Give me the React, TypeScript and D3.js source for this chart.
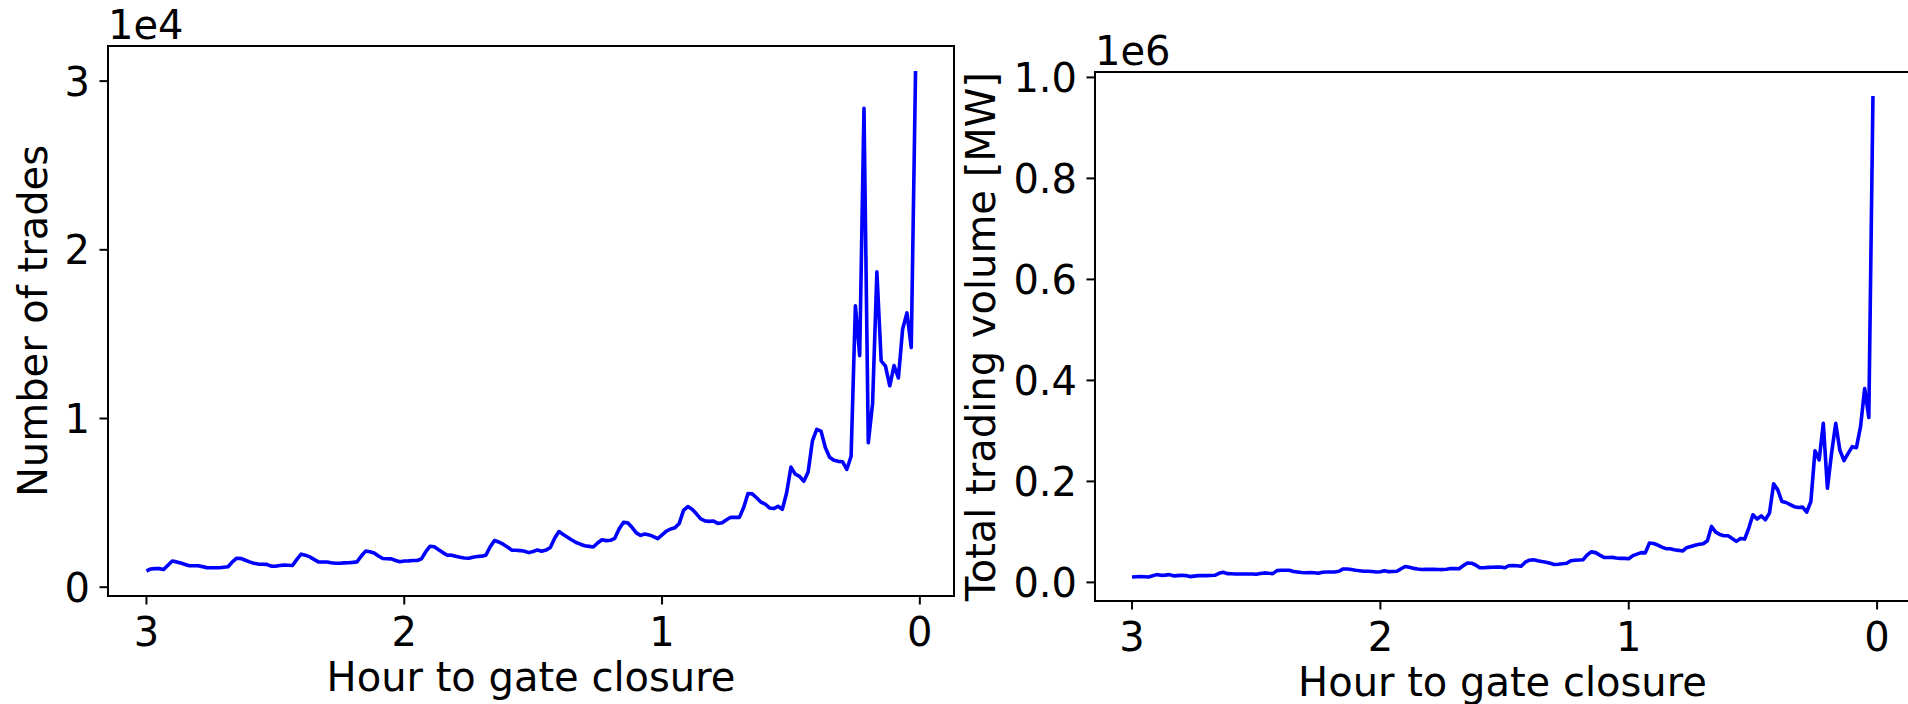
import React from 'react';
import * as d3 from 'd3';

// minutes before gate closure, one sample per minute (3 h -> 1 min)
const minutes = d3.range(180, 0, -1);

// number of trades per minute, m = 180 ... 1
const trades = [
  960, 1080, 1100, 1100, 1050, 1300, 1550, 1500, 1430, 1350,
  1270, 1270, 1270, 1220, 1160, 1150, 1150, 1150, 1180, 1210,
  1500, 1720, 1700, 1600, 1500, 1420, 1370, 1360, 1350, 1250,
  1240, 1290, 1310, 1300, 1290, 1650, 1960, 1900, 1800, 1650,
  1500, 1490, 1490, 1450, 1420, 1420, 1440, 1450, 1470, 1500,
  1850, 2140, 2100, 2030, 1850, 1700, 1690, 1680, 1580, 1510,
  1550, 1560, 1580, 1580, 1680, 2100, 2430, 2400, 2220, 2050,
  1890, 1900, 1830, 1770, 1730, 1720, 1780, 1820, 1840, 1900,
  2400, 2770, 2680, 2550, 2380, 2200, 2190, 2170, 2130, 2050,
  2120, 2210, 2130, 2200, 2350, 2900, 3300, 3120, 2960, 2800,
  2650, 2550, 2460, 2420, 2380, 2620, 2810, 2760, 2780, 2900,
  3450, 3840, 3820, 3550, 3220, 3070, 3150, 3100, 3000, 2880,
  3100, 3320, 3450, 3520, 3780, 4550, 4780, 4620, 4350, 4050,
  3930, 3900, 3920, 3780, 3820, 4000, 4150, 4140, 4140, 4720,
  5550, 5530, 5300, 5050, 4930, 4700, 4660, 4800, 4620, 5600,
  7120, 6700, 6570, 6280, 6830, 8670, 9350, 9250, 8280, 7700,
  7520, 7460, 7440, 6980, 7760, 16680, 13730, 28390, 8560, 10880,
  18690, 13410, 13100, 11940, 13140, 12400, 15310, 16260, 14210, 30600,
];

// total trading volume [MW] per minute, m = 180 ... 1
const volume = [
  10800, 11200, 11500, 11200, 10800, 13000, 15400, 14000, 14500, 15400,
  13000, 13500, 14100, 13500, 11500, 12500, 13400, 13400, 13400, 13800,
  14100, 18000, 20000, 17400, 17000, 16700, 16700, 16700, 16700, 16700,
  16000, 17500, 18800, 18000, 17400, 23300, 24000, 24000, 24000, 21500,
  20500, 19500, 19000, 19500, 19000, 18000, 20000, 20700, 20700, 20700,
  22000, 26700, 26700, 25500, 24000, 23000, 22000, 22000, 21500, 20700,
  21000, 23300, 21300, 21500, 22000, 27000, 31500, 30000, 27800, 26500,
  25500, 25800, 25900, 25900, 25700, 25400, 26200, 27500, 27200, 27000,
  33000, 38500, 38000, 34500, 29000, 29000, 29800, 30000, 30300, 30500,
  29000, 33000, 33500, 33000, 32000, 40000, 44000, 45000, 43000, 41300,
  40000, 38000, 35500, 36000, 37000, 38000, 43000, 44000, 44500, 45000,
  55000, 60500, 59000, 54000, 49500, 49300, 49600, 48500, 47600, 47600,
  47000, 53000, 56000, 59000, 58500, 78000, 77000, 74000, 70000, 66800,
  66800, 64500, 63500, 62200, 68800, 71000, 73500, 75500, 76600, 82500,
  110800, 99600, 95000, 92500, 92500, 87000, 81200, 87100, 85800, 107600,
  133900, 125400, 131900, 124000, 137200, 195100, 183200, 160200, 158200, 154000,
  150000, 148300, 149000, 139200, 160200, 260800, 242400, 314900, 186600, 255600,
  314900, 262200, 241100, 255600, 268800, 266800, 308300, 384000, 326800, 963100,
];

const hourTicks = [3, 2, 1, 0];
const tradeTicks = [0, 10000, 20000, 30000];
const volumeTicks = [0, 200000, 400000, 600000, 800000, 1000000];

const FONT = 'DejaVu Sans, sans-serif';
const FS = 40;

function padded(lo, hi) {
  const m = (hi - lo) * 0.05;
  return [lo - m, hi + m];
}

function Panel({ values, ticks, exponent, fmt, yLabel, box, yLabelX }) {
  const hours = minutes.map(m => m / 60);
  const [x0, x1] = padded(d3.min(hours), d3.max(hours));
  const x = d3.scaleLinear().domain([x1, x0]).range([box.left, box.right]);
  const y = d3.scaleLinear().domain(padded(d3.min(values), d3.max(values))).range([box.bottom, box.top]);
  const line = d3.line().x((d, i) => x(hours[i])).y(d => y(d));
  const scale = Math.pow(10, exponent);
  const midX = (box.left + box.right) / 2;
  const midY = (box.top + box.bottom) / 2;

  return (
    <g fontFamily={FONT} fontSize={FS} fill="#000">
      <path d={line(values)} fill="none" stroke="#0000ff" strokeWidth={3.6} strokeLinejoin="round" />
      <rect x={box.left} y={box.top} width={box.right - box.left} height={box.bottom - box.top}
            fill="none" stroke="#000" strokeWidth={2} />
      {hourTicks.map(t => (
        <g key={`x-${t}`}>
          <line x1={x(t)} x2={x(t)} y1={box.bottom} y2={box.bottom + 8.5} stroke="#000" strokeWidth={2} />
          <text x={x(t)} y={box.bottom + 50} textAnchor="middle">{t}</text>
        </g>
      ))}
      {ticks.map(t => (
        <g key={`y-${t}`}>
          <line x1={box.left - 8.5} x2={box.left} y1={y(t)} y2={y(t)} stroke="#000" strokeWidth={2} />
          <text x={box.left - 18} y={y(t)} dy="0.36em" textAnchor="end">{fmt(t / scale)}</text>
        </g>
      ))}
      <text x={box.left} y={box.top - 7}>{`1e${exponent}`}</text>
      <text x={midX} y={box.bottom + 95} textAnchor="middle">Hour to gate closure</text>
      <text transform={`translate(${yLabelX},${midY}) rotate(-90)`} textAnchor="middle">{yLabel}</text>
    </g>
  );
}

export default function App() {
  return (
    <svg width={1908} height={704} style={{ position: 'absolute', left: 0, top: 0, background: '#fff' }}>
      <rect width={1908} height={704} fill="#fff" />
      <Panel values={trades} ticks={tradeTicks} exponent={4} fmt={d3.format('d')}
             yLabel="Number of trades" yLabelX={47}
             box={{ left: 108, right: 954, top: 46, bottom: 596 }} />
      <Panel values={volume} ticks={volumeTicks} exponent={6} fmt={d3.format('.1f')}
             yLabel="Total trading volume [MW]" yLabelX={995}
             box={{ left: 1095, right: 1910, top: 72, bottom: 601 }} />
    </svg>
  );
}
